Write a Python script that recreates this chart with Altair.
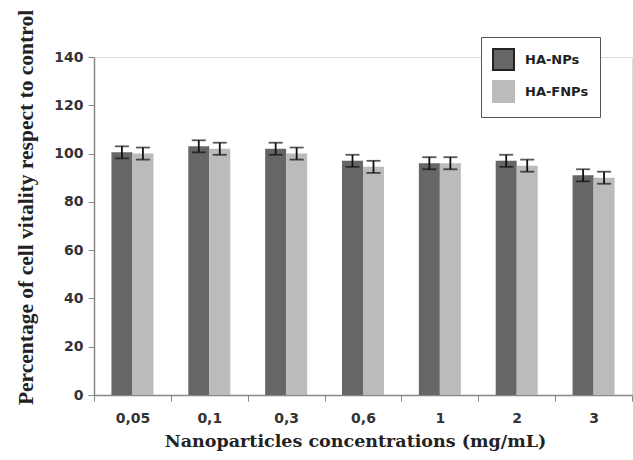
import altair as alt
import pandas as pd

categories = ["0,05", "0,1", "0,3", "0,6", "1", "2", "3"]
series = ["HA-NPs", "HA-FNPs"]
ha_nps = [100.5, 103, 102, 97, 96, 97, 91]
ha_fnps = [100, 102, 100, 94.5, 96, 95, 90]
ha_nps_err = [2.5, 2.5, 2.5, 2.5, 2.5, 2.5, 2.5]
ha_fnps_err = [2.5, 2.5, 2.5, 2.5, 2.5, 2.5, 2.5]
y_ticks = [0, 20, 40, 60, 80, 100, 120, 140]

rows = []
for i, c in enumerate(categories):
    rows.append({"conc": c, "series": series[0], "value": ha_nps[i],
                 "lo": ha_nps[i] - ha_nps_err[i], "hi": ha_nps[i] + ha_nps_err[i]})
    rows.append({"conc": c, "series": series[1], "value": ha_fnps[i],
                 "lo": ha_fnps[i] - ha_fnps_err[i], "hi": ha_fnps[i] + ha_fnps_err[i]})
df = pd.DataFrame(rows)

x_enc = alt.X("conc:N", sort=categories,
              scale=alt.Scale(paddingInner=0, paddingOuter=0),
              axis=alt.Axis(title="Nanoparticles concentrations (mg/mL)",
                            labelAngle=0, tickBand="extent",
                            labelFont="DejaVu Sans", labelFontSize=14,
                            labelFontWeight="bold", labelColor="#333",
                            labelPadding=10, tickSize=6, tickColor="#888",
                            domainColor="#888", domainWidth=1.5,
                            titleFont="DejaVu Serif", titleFontSize=17.5,
                            titleFontWeight="bold", titleColor="#222",
                            titleX=261, titleY=46, titleAlign="center",
                            titleBaseline="middle"))
xoff = alt.XOffset("series:N", sort=series,
                   scale=alt.Scale(paddingInner=0, paddingOuter=0.83))

y_scale = alt.Scale(domain=[0, 140], nice=False)
y_axis = alt.Axis(title="Percentage of cell vitality respect to control",
                  values=y_ticks, grid=False,
                  labelFont="DejaVu Sans", labelFontSize=14,
                  labelFontWeight="bold", labelColor="#333",
                  labelPadding=5, tickSize=6, tickColor="#888",
                  domainColor="#888", domainWidth=1.5,
                  titleFont="Liberation Serif", titleFontSize=21.5,
                  titleFontWeight="bold", titleColor="#222",
                  titleX=-68, titleY=150, titleAngle=-90,
                  titleAlign="center", titleBaseline="middle")

color_scale = alt.Scale(domain=series, range=["#666666", "#bbbbbb"])
stroke_scale = alt.Scale(domain=series, range=["#222222", "#bbbbbb"])

legend = alt.Legend(title=None, orient="none", legendX=387, legendY=-20,
                    symbolType="square", symbolSize=440, symbolStrokeWidth=2,
                    symbolOpacity=1,
                    labelFont="DejaVu Sans", labelFontSize=13, labelFontWeight="bold",
                    labelColor="#222", rowPadding=3, padding=11,
                    strokeColor="#555", fillColor="white", labelOffset=10)

bars = alt.Chart(df).mark_bar(strokeWidth=0).encode(
    x=x_enc,
    xOffset=xoff,
    y=alt.Y("value:Q", scale=y_scale, axis=y_axis),
    fill=alt.Fill("series:N", scale=color_scale, sort=series, legend=legend),
    stroke=alt.Stroke("series:N", scale=stroke_scale, sort=series, legend=legend),
)

rule = alt.Chart(df).mark_rule(color="#111", strokeWidth=1.8).encode(
    x=alt.X("conc:N", sort=categories),
    xOffset=alt.XOffset("series:N", sort=series),
    y=alt.Y("lo:Q"),
    y2="hi:Q",
)
cap_lo = alt.Chart(df).mark_tick(color="#111", thickness=1.8, size=14, orient="horizontal").encode(
    x=alt.X("conc:N", sort=categories),
    xOffset=alt.XOffset("series:N", sort=series),
    y=alt.Y("lo:Q"),
)
cap_hi = alt.Chart(df).mark_tick(color="#111", thickness=1.8, size=14, orient="horizontal").encode(
    x=alt.X("conc:N", sort=categories),
    xOffset=alt.XOffset("series:N", sort=series),
    y=alt.Y("hi:Q"),
)

chart = alt.layer(bars, rule, cap_lo, cap_hi).properties(
    width=538, height=338,
    autosize=alt.AutoSizeParams(type="none"),
    padding={"left": 94, "top": 57, "right": 1, "bottom": 65},
).configure_view(stroke=None).configure(background="white")

chart.save("out.html", embed_options={"renderer": "svg", "actions": False})
